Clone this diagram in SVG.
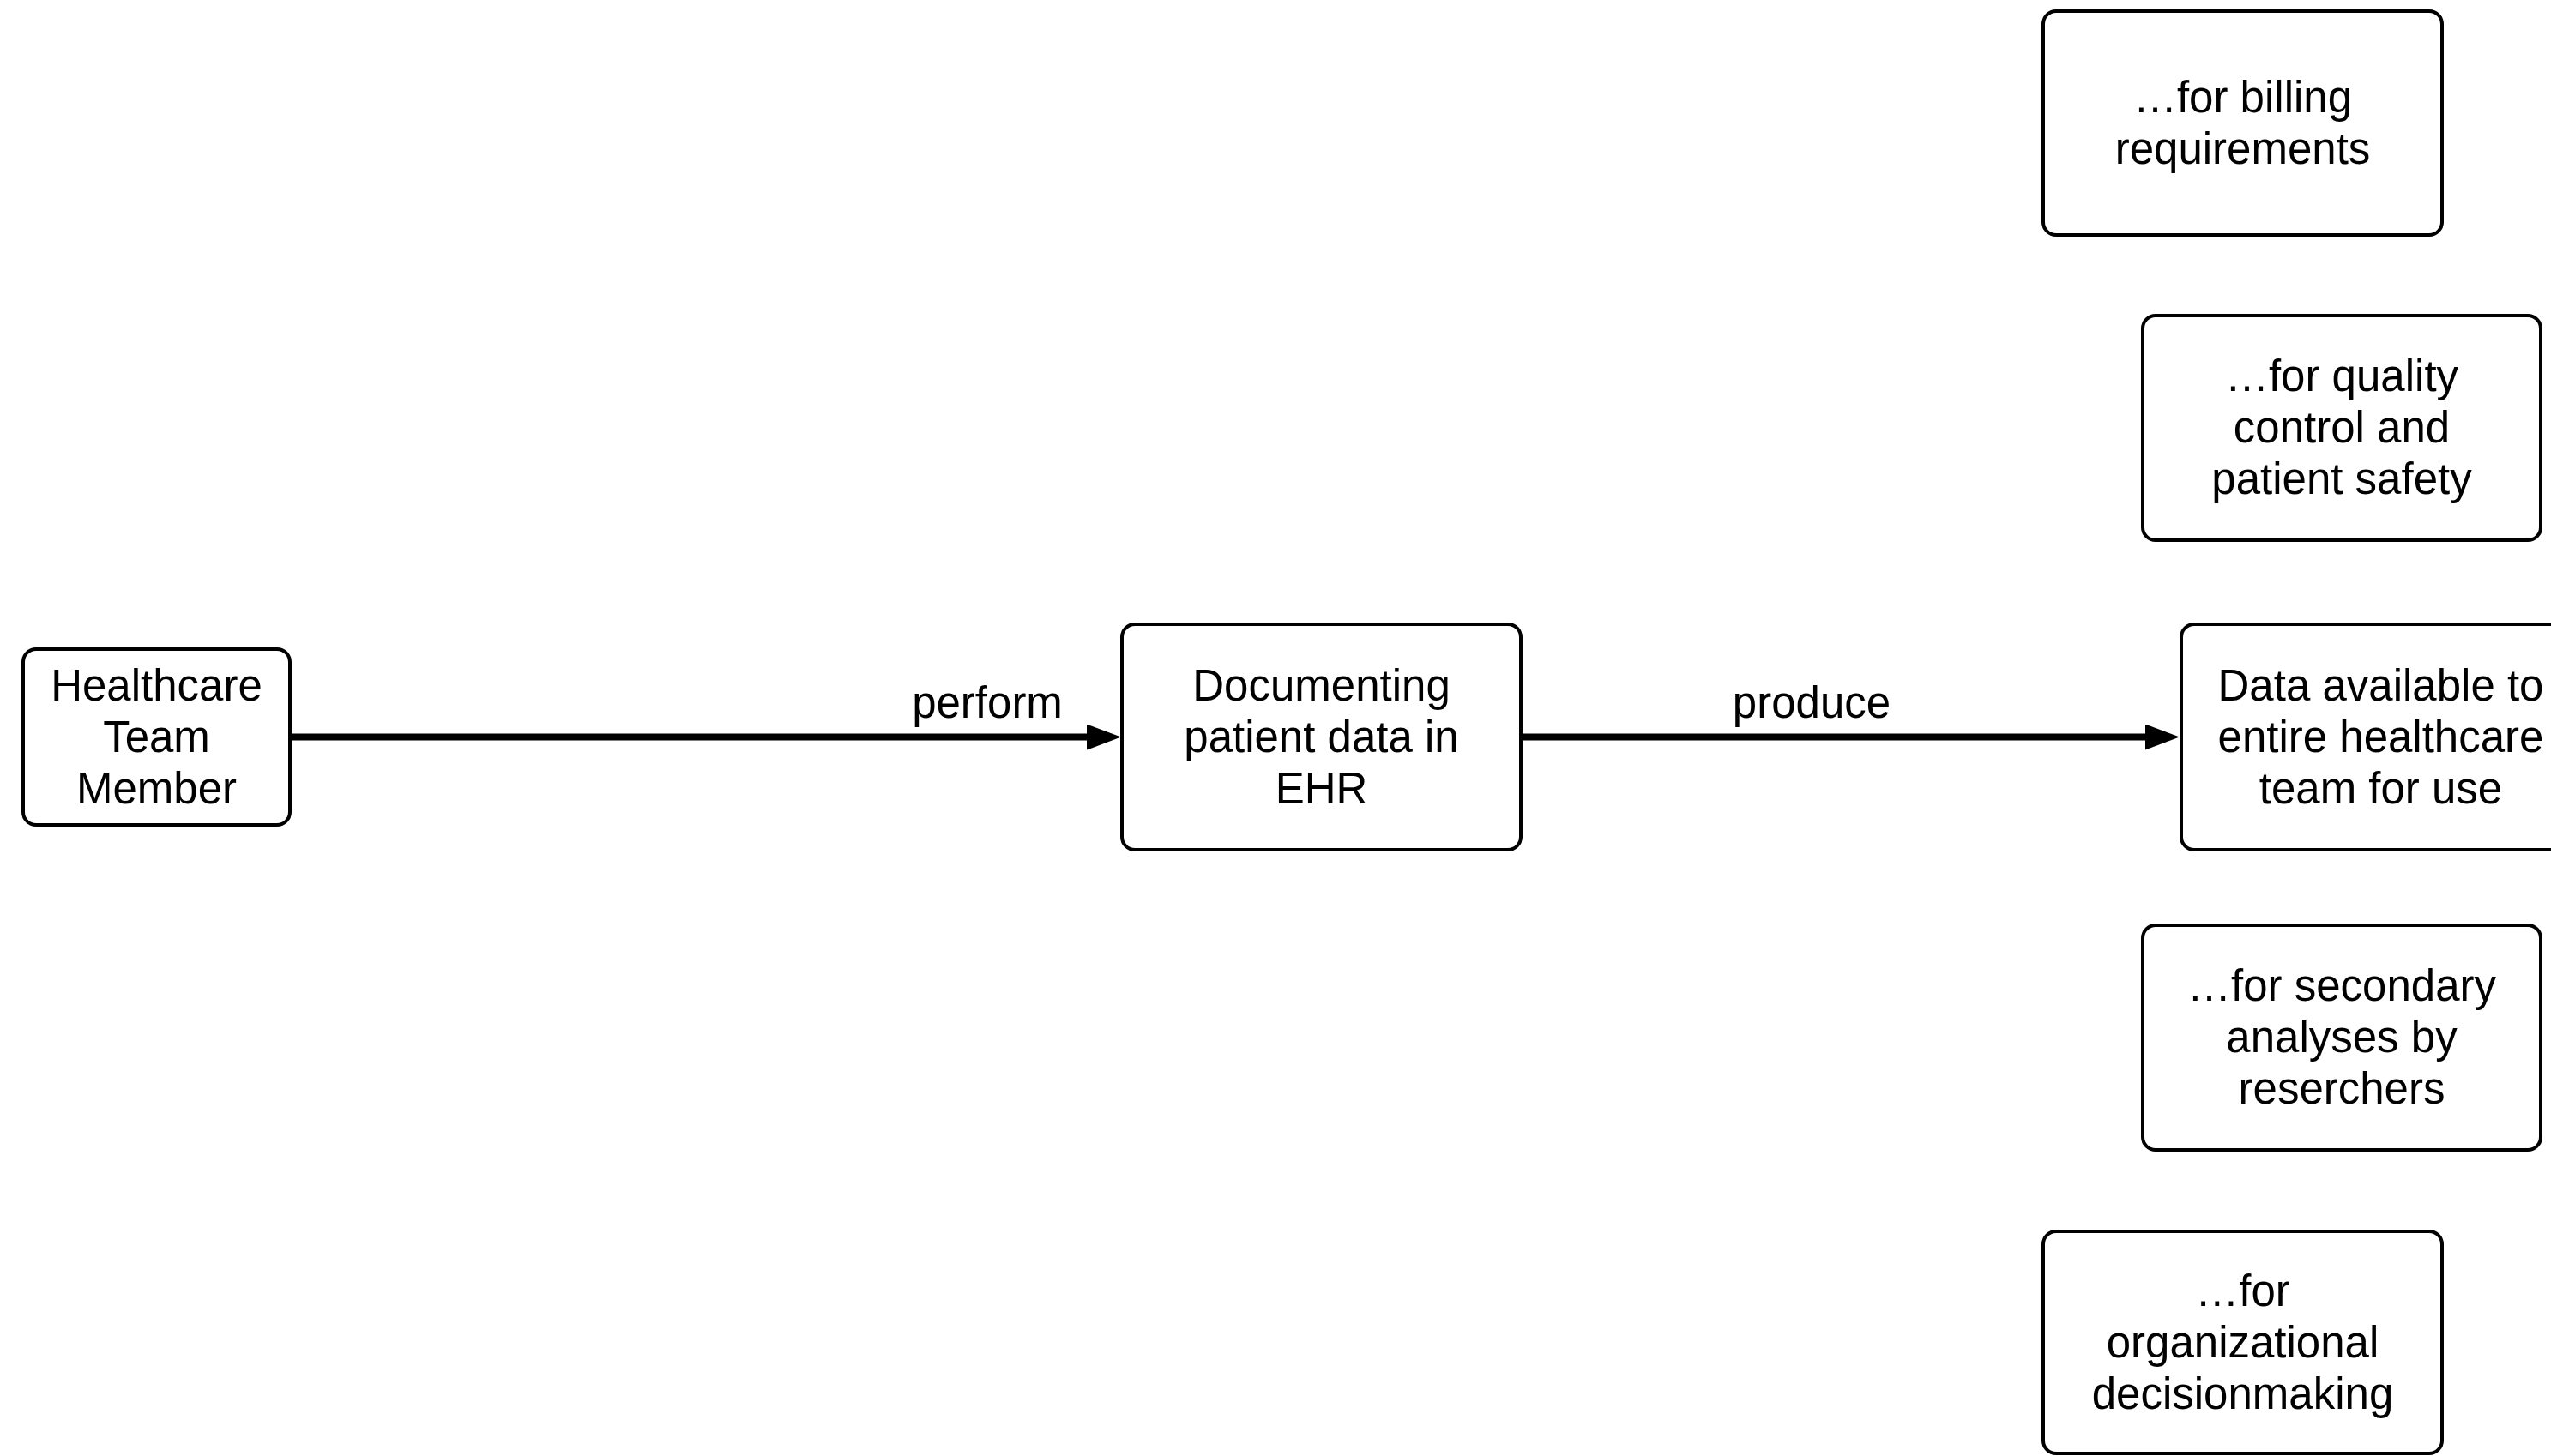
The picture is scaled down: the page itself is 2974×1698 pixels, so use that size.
<svg xmlns="http://www.w3.org/2000/svg" width="2974" height="1698" viewBox="0 0 2974 1698">
  <style>
    .box { fill: #ffffff; stroke: #000000; stroke-width: 4; }
    .label { font-family: "Liberation Sans", Arial, Helvetica, sans-serif; font-size: 51px; fill: #000000; text-anchor: middle; }
    .edge { stroke: #000000; stroke-width: 8; fill: none; }
  </style>
  <defs>
    <marker id="arrow" markerUnits="userSpaceOnUse" markerWidth="40" markerHeight="30" refX="0" refY="15" orient="auto">
      <path d="M0,0 L40,15 L0,30 Z" fill="#000000"/>
    </marker>
  </defs>
  <rect width="2974" height="1698" fill="#ffffff"/>

  <!-- connectors -->
  <g id="connectors">
    <line class="edge" x1="338" y1="859.5" x2="1267" y2="859.5" marker-end="url(#arrow)"/>
    <text class="label" x="1151" y="837">perform</text>
    <line class="edge" x1="1773" y1="859.5" x2="2501" y2="859.5" marker-end="url(#arrow)"/>
    <text class="label" x="2112" y="837">produce</text>
  </g>

  <!-- actor -->
  <g id="team-member">
    <rect class="box" x="27" y="757" width="311" height="205" rx="15" ry="15"/>
    <text class="label" x="182.5" y="817">Healthcare</text>
    <text class="label" x="182.5" y="877">Team</text>
    <text class="label" x="182.5" y="937">Member</text>
  </g>

  <!-- activity -->
  <g id="documenting">
    <rect class="box" x="1308" y="728" width="465" height="263" rx="15" ry="15"/>
    <text class="label" x="1540.5" y="817">Documenting</text>
    <text class="label" x="1540.5" y="877">patient data in</text>
    <text class="label" x="1540.5" y="937">EHR</text>
  </g>

  <!-- outcome -->
  <g id="data-available">
    <rect class="box" x="2543" y="728" width="465" height="263" rx="15" ry="15"/>
    <text class="label" x="2775.5" y="817">Data available to</text>
    <text class="label" x="2775.5" y="877">entire healthcare</text>
    <text class="label" x="2775.5" y="937">team for use</text>
  </g>

  <!-- uses of the data -->
  <g id="billing">
    <rect class="box" x="2382" y="13" width="465" height="261" rx="15" ry="15"/>
    <text class="label" x="2614.5" y="131">…for billing</text>
    <text class="label" x="2614.5" y="191">requirements</text>
  </g>

  <g id="quality">
    <rect class="box" x="2498" y="368" width="464" height="262" rx="15" ry="15"/>
    <text class="label" x="2730" y="456">…for quality</text>
    <text class="label" x="2730" y="516">control and</text>
    <text class="label" x="2730" y="576">patient safety</text>
  </g>

  <g id="secondary">
    <rect class="box" x="2498" y="1079" width="464" height="262" rx="15" ry="15"/>
    <text class="label" x="2730" y="1167">…for secondary</text>
    <text class="label" x="2730" y="1227">analyses by</text>
    <text class="label" x="2730" y="1287">reserchers</text>
  </g>

  <g id="organizational">
    <rect class="box" x="2382" y="1436" width="465" height="259" rx="15" ry="15"/>
    <text class="label" x="2614.5" y="1523">…for</text>
    <text class="label" x="2614.5" y="1583">organizational</text>
    <text class="label" x="2614.5" y="1643">decisionmaking</text>
  </g>
</svg>
